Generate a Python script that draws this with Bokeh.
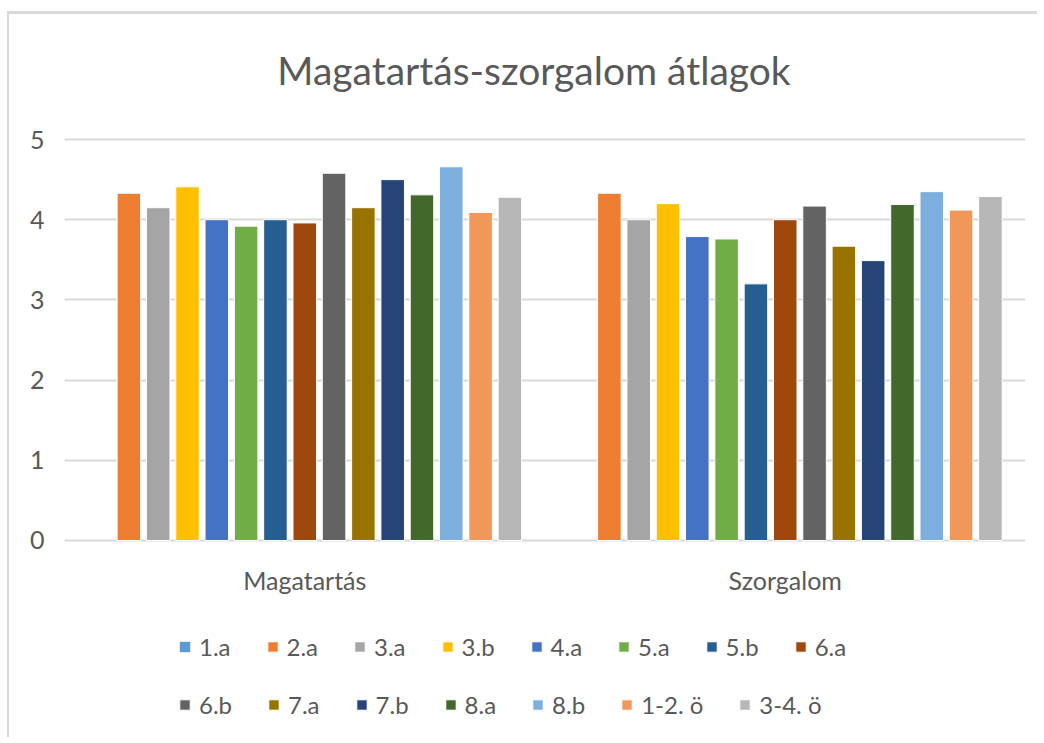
from bokeh.plotting import figure
from bokeh.models import (FactorRange, Range1d, FixedTicker, Legend, LegendItem,
                          ColumnDataSource, Label)
from bokeh.transform import dodge
from bokeh.embed import file_html
from bokeh.resources import INLINE

title_text = "Magatartás-szorgalom átlagok"
categories = ["Magatartás", "Szorgalom"]
series = ["1.a", "2.a", "3.a", "3.b", "4.a", "5.a", "5.b", "6.a",
          "6.b", "7.a", "7.b", "8.a", "8.b", "1-2. ö", "3-4. ö"]
magatartas = [None, 4.33, 4.15, 4.41, 4.00, 3.92, 4.00, 3.96,
              4.58, 4.15, 4.50, 4.31, 4.66, 4.09, 4.28]
szorgalom = [None, 4.33, 4.00, 4.20, 3.79, 3.76, 3.20, 4.00,
             4.17, 3.67, 3.49, 4.19, 4.35, 4.12, 4.29]
colors = ["#5B9BD5", "#ED7D31", "#A5A5A5", "#FFC000", "#4472C4", "#70AD47",
          "#255E91", "#9E480E", "#636363", "#997300", "#264478", "#43682B",
          "#7CAFDD", "#F1975A", "#B7B7B7"]
y_ticks = [0, 1, 2, 3, 4, 5]

FONT = "Lato"
TXT = "#595959"
GRID = "#d9d9d9"

data = {"cat": categories, "base": [0, 0]}
for i in range(len(series)):
    data["s%d" % i] = [magatartas[i], szorgalom[i]]
src = ColumnDataSource(data)

# The frame covers the whole chart area; title, category labels and legend
# are drawn inside it, the value axis only shows 0..5.
p = figure(width=1030, height=726, output_backend="svg", toolbar_location=None,
           x_range=FactorRange(*categories, range_padding=0),
           y_range=Range1d(-2.494, 6.559), x_axis_type=None,
           min_border_left=55, min_border_right=14,
           min_border_top=0, min_border_bottom=0)
p.styles = {"margin-left": "7px", "margin-top": "11px",
            "border-left": "2px solid #d9d9d9", "border-top": "3px solid #d9d9d9"}

n = len(series)
step = 0.061
renderers = []
for i in range(n):
    has_bar = any(v is not None for v in (magatartas[i], szorgalom[i]))
    r = p.vbar(x=dodge("cat", (i - (n - 1) / 2) * step, range=p.x_range),
               top="s%d" % i, bottom="base", width=0.049, source=src,
               fill_color=colors[i],
               line_color="white" if has_bar else None, line_width=1)
    renderers.append(r)

# category labels under the baseline
p.text(x="cat", y="base", text="cat", source=src, y_offset=40,
       text_align="center", text_baseline="middle",
       text_font={"value": FONT}, text_font_size="25px", text_color=TXT)

# chart title
p.add_layout(Label(x=1.0, y=5.87, x_offset=-11, text=title_text,
                   text_align="center", text_baseline="alphabetic",
                   text_font=FONT, text_font_size="39px", text_color=TXT))

p.outline_line_color = None
p.background_fill_color = "white"
p.ygrid.grid_line_color = GRID
p.ygrid.grid_line_width = 2
p.yaxis.ticker = FixedTicker(ticks=y_ticks)
p.yaxis.axis_line_color = None
p.yaxis.major_tick_line_color = None
p.yaxis.minor_tick_line_color = None
p.yaxis.major_tick_out = 0
p.yaxis.major_tick_in = 0
p.yaxis.major_label_standoff = 20
p.yaxis.major_label_text_font = FONT
p.yaxis.major_label_text_font_size = "25px"
p.yaxis.major_label_text_color = TXT

items = [LegendItem(label=series[i], renderers=[renderers[i]]) for i in range(n)]

def make_legend(its, loc):
    return Legend(items=its, location=loc, orientation="horizontal",
                  glyph_width=13, glyph_height=13, label_standoff=8, spacing=35,
                  padding=0, margin=0, border_line_color=None,
                  background_fill_alpha=0, label_text_font=FONT,
                  label_text_font_size="24px", label_text_color=TXT,
                  label_height=26)

p.add_layout(make_legend(items[:8], (114, 79)), "center")
p.add_layout(make_legend(items[8:], (114, 21)), "center")

open("out.html", "w").write(file_html(p, INLINE))
